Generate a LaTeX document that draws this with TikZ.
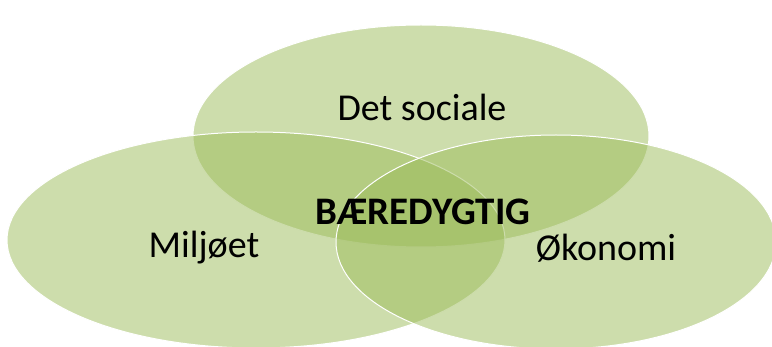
\documentclass[tikz,border=0pt]{standalone}
\usepackage{fontspec}
\setmainfont{Carlito}
\usepackage{tikz}
\usetikzlibrary{shapes.geometric}
\definecolor{olive}{RGB}{155,187,89}
\tikzset{
every picture/.style=thick,
circlenode/.style={ellipse, draw=white, line width=1pt, fill=olive, fill opacity=0.5, inner sep=0pt, outer sep=0pt},
labelnode/.style={font=\fontsize{38}{42}\selectfont, text=black}
}

\begin{document}
\begin{tikzpicture}[x=1pt,y=-1pt]
\useasboundingbox (0,0) rectangle (772,347);
%Circles
\node (soc) [circlenode, minimum width=456, minimum height=222] at (421,136) {};
\node (milj) [circlenode, minimum width=498, minimum height=216] at (256,240) {};
\node (oko) [circlenode, minimum width=440, minimum height=214] at (556,242) {};

%Labels
\node (soctxt) [labelnode] at (422,107) {Det sociale};
\node (miljtxt) [labelnode] at (204,248) {Miljøet};
\node (okotxt) [labelnode] at (606,248) {Økonomi};
\node (baer) [labelnode, font=\fontsize{39}{42}\selectfont\bfseries] at (423,212) {BÆREDYGTIG};
\end{tikzpicture}
\end{document}
